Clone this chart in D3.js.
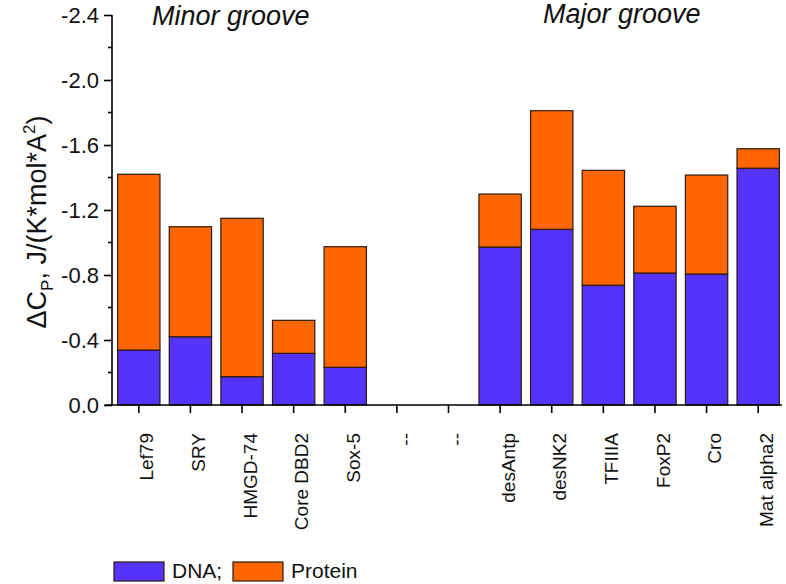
<!DOCTYPE html>
<html>
<head>
<meta charset="utf-8">
<script src="https://cdnjs.cloudflare.com/ajax/libs/d3/7.8.5/d3.min.js"></script>
<style>
  body { margin: 0; background: #fff; }
  svg { font-family: Arial, "Liberation Sans", sans-serif; }
</style>
</head>
<body>
<svg id="chart" width="786" height="584"></svg>
<script>
// values (dCp, J/(K*mol*A^2))
const categories = ['Lef79', 'SRY', 'HMGD-74', 'Core DBD2', 'Sox-5', '--', '--',
    'desAntp', 'desNK2', 'TFIIIA', 'FoxP2', 'Cro', 'Mat alpha2'];
const dnaValues = [-0.338, -0.42, -0.174, -0.318, -0.232, 0, 0,
    -0.972, -1.081, -0.737, -0.812, -0.806, -1.457];
const totalValues = [-1.42, -1.097, -1.149, -0.521, -0.974, 0, 0,
    -1.298, -1.811, -1.444, -1.223, -1.415, -1.577];
const proteinValues = totalValues.map((t, i) => t - dnaValues[i]);
const yTicks = [0, -0.4, -0.8, -1.2, -1.6, -2.0, -2.4];
const seriesNames = ['DNA', 'Protein'];
const seriesColors = ['#5533ff', '#ff6600'];

const svg = d3.select('#chart');

const rows = categories.map((c, i) => ({ i, DNA: dnaValues[i], Protein: proteinValues[i] }));

const x = d3.scaleBand()
    .domain(d3.range(categories.length))
    .range([113, 784])
    .paddingInner(0.18)
    .paddingOuter(0.09);

const y = d3.scaleLinear()
    .domain([0, -2.4])
    .range([405, 15]);

const stacked = d3.stack()
    .keys(seriesNames)
    .offset(d3.stackOffsetDiverging)(rows);

// bars
svg.append('g')
    .selectAll('g')
    .data(stacked)
    .join('g')
    .attr('fill', (d, k) => seriesColors[k])
    .selectAll('rect')
    .data((d) => d.filter((p) => p[0] !== p[1]))
    .join('rect')
    .attr('x', (p) => x(p.data.i))
    .attr('width', x.bandwidth())
    .attr('y', (p) => Math.min(y(p[0]), y(p[1])))
    .attr('height', (p) => Math.abs(y(p[0]) - y(p[1])))
    .attr('stroke', '#2a1a10')
    .attr('stroke-width', 1.2);

// y axis
const yAxis = svg.append('g')
    .attr('transform', 'translate(112,0)')
    .call(d3.axisLeft(y).tickValues(yTicks).tickSize(8).tickPadding(5)
        .tickFormat((d) => (d === 0 ? '0.0' : '-' + Math.abs(d).toFixed(1))));
yAxis.select('.domain').attr('d', `M0,${y(0)}V${y(-2.4)}`).attr('stroke-width', 1.6);
yAxis.selectAll('.tick line').attr('stroke-width', 1.6);
yAxis.selectAll('text').attr('font-size', 22).attr('fill', '#111');

// minor y ticks
svg.append('g')
    .selectAll('line')
    .data(yTicks.slice(0, -1).map((t) => t - 0.2))
    .join('line')
    .attr('x1', 108)
    .attr('x2', 112)
    .attr('y1', (d) => y(d))
    .attr('y2', (d) => y(d))
    .attr('stroke', '#000')
    .attr('stroke-width', 1.6);

// x axis
const xAxis = svg.append('g')
    .attr('transform', `translate(0,${y(0)})`)
    .call(d3.axisBottom(x).tickSize(8).tickPadding(0).tickFormat((i) => categories[i]));
xAxis.select('.domain').attr('d', 'M105,0H782').attr('stroke-width', 1.6);
xAxis.selectAll('.tick line').attr('stroke-width', 1.6);
xAxis.selectAll('text')
    .attr('font-size', 19)
    .attr('fill', '#111')
    .attr('text-anchor', 'end')
    .attr('dy', '0.35em')
    .attr('transform', 'translate(0,28) rotate(-90)');

// y axis label
const yLabel = svg.append('text')
    .attr('transform', 'translate(46,222) rotate(-90)')
    .attr('text-anchor', 'middle')
    .attr('font-size', 27)
    .attr('fill', '#111');
yLabel.append('tspan').text('\u0394C');
yLabel.append('tspan').attr('font-size', 17).attr('dy', 7).text('P');
yLabel.append('tspan').attr('dy', -7).text(', J/(K*mol*A');
yLabel.append('tspan').attr('font-size', 17).attr('dy', -11).text('2');
yLabel.append('tspan').attr('dy', 11).text(')');

// group titles
svg.append('text')
    .attr('x', 152).attr('y', 25)
    .attr('font-size', 27).attr('font-style', 'italic').attr('fill', '#111')
    .text('Minor groove');
svg.append('text')
    .attr('x', 543).attr('y', 23)
    .attr('font-size', 27).attr('font-style', 'italic').attr('fill', '#111')
    .text('Major groove');

// legend
const legend = svg.append('g');
const legendX = [114, 233];
const legendText = ['DNA;', 'Protein'];
legend.selectAll('rect')
    .data(seriesNames)
    .join('rect')
    .attr('x', (d, k) => legendX[k])
    .attr('y', 562)
    .attr('width', 50)
    .attr('height', 19)
    .attr('fill', (d, k) => seriesColors[k])
    .attr('stroke', '#2a1a10')
    .attr('stroke-width', 1.2);
legend.selectAll('text')
    .data(seriesNames)
    .join('text')
    .attr('x', (d, k) => legendX[k] + 58)
    .attr('y', 578)
    .attr('font-size', 21)
    .attr('fill', '#111')
    .text((d, k) => legendText[k]);
</script>
</body>
</html>
